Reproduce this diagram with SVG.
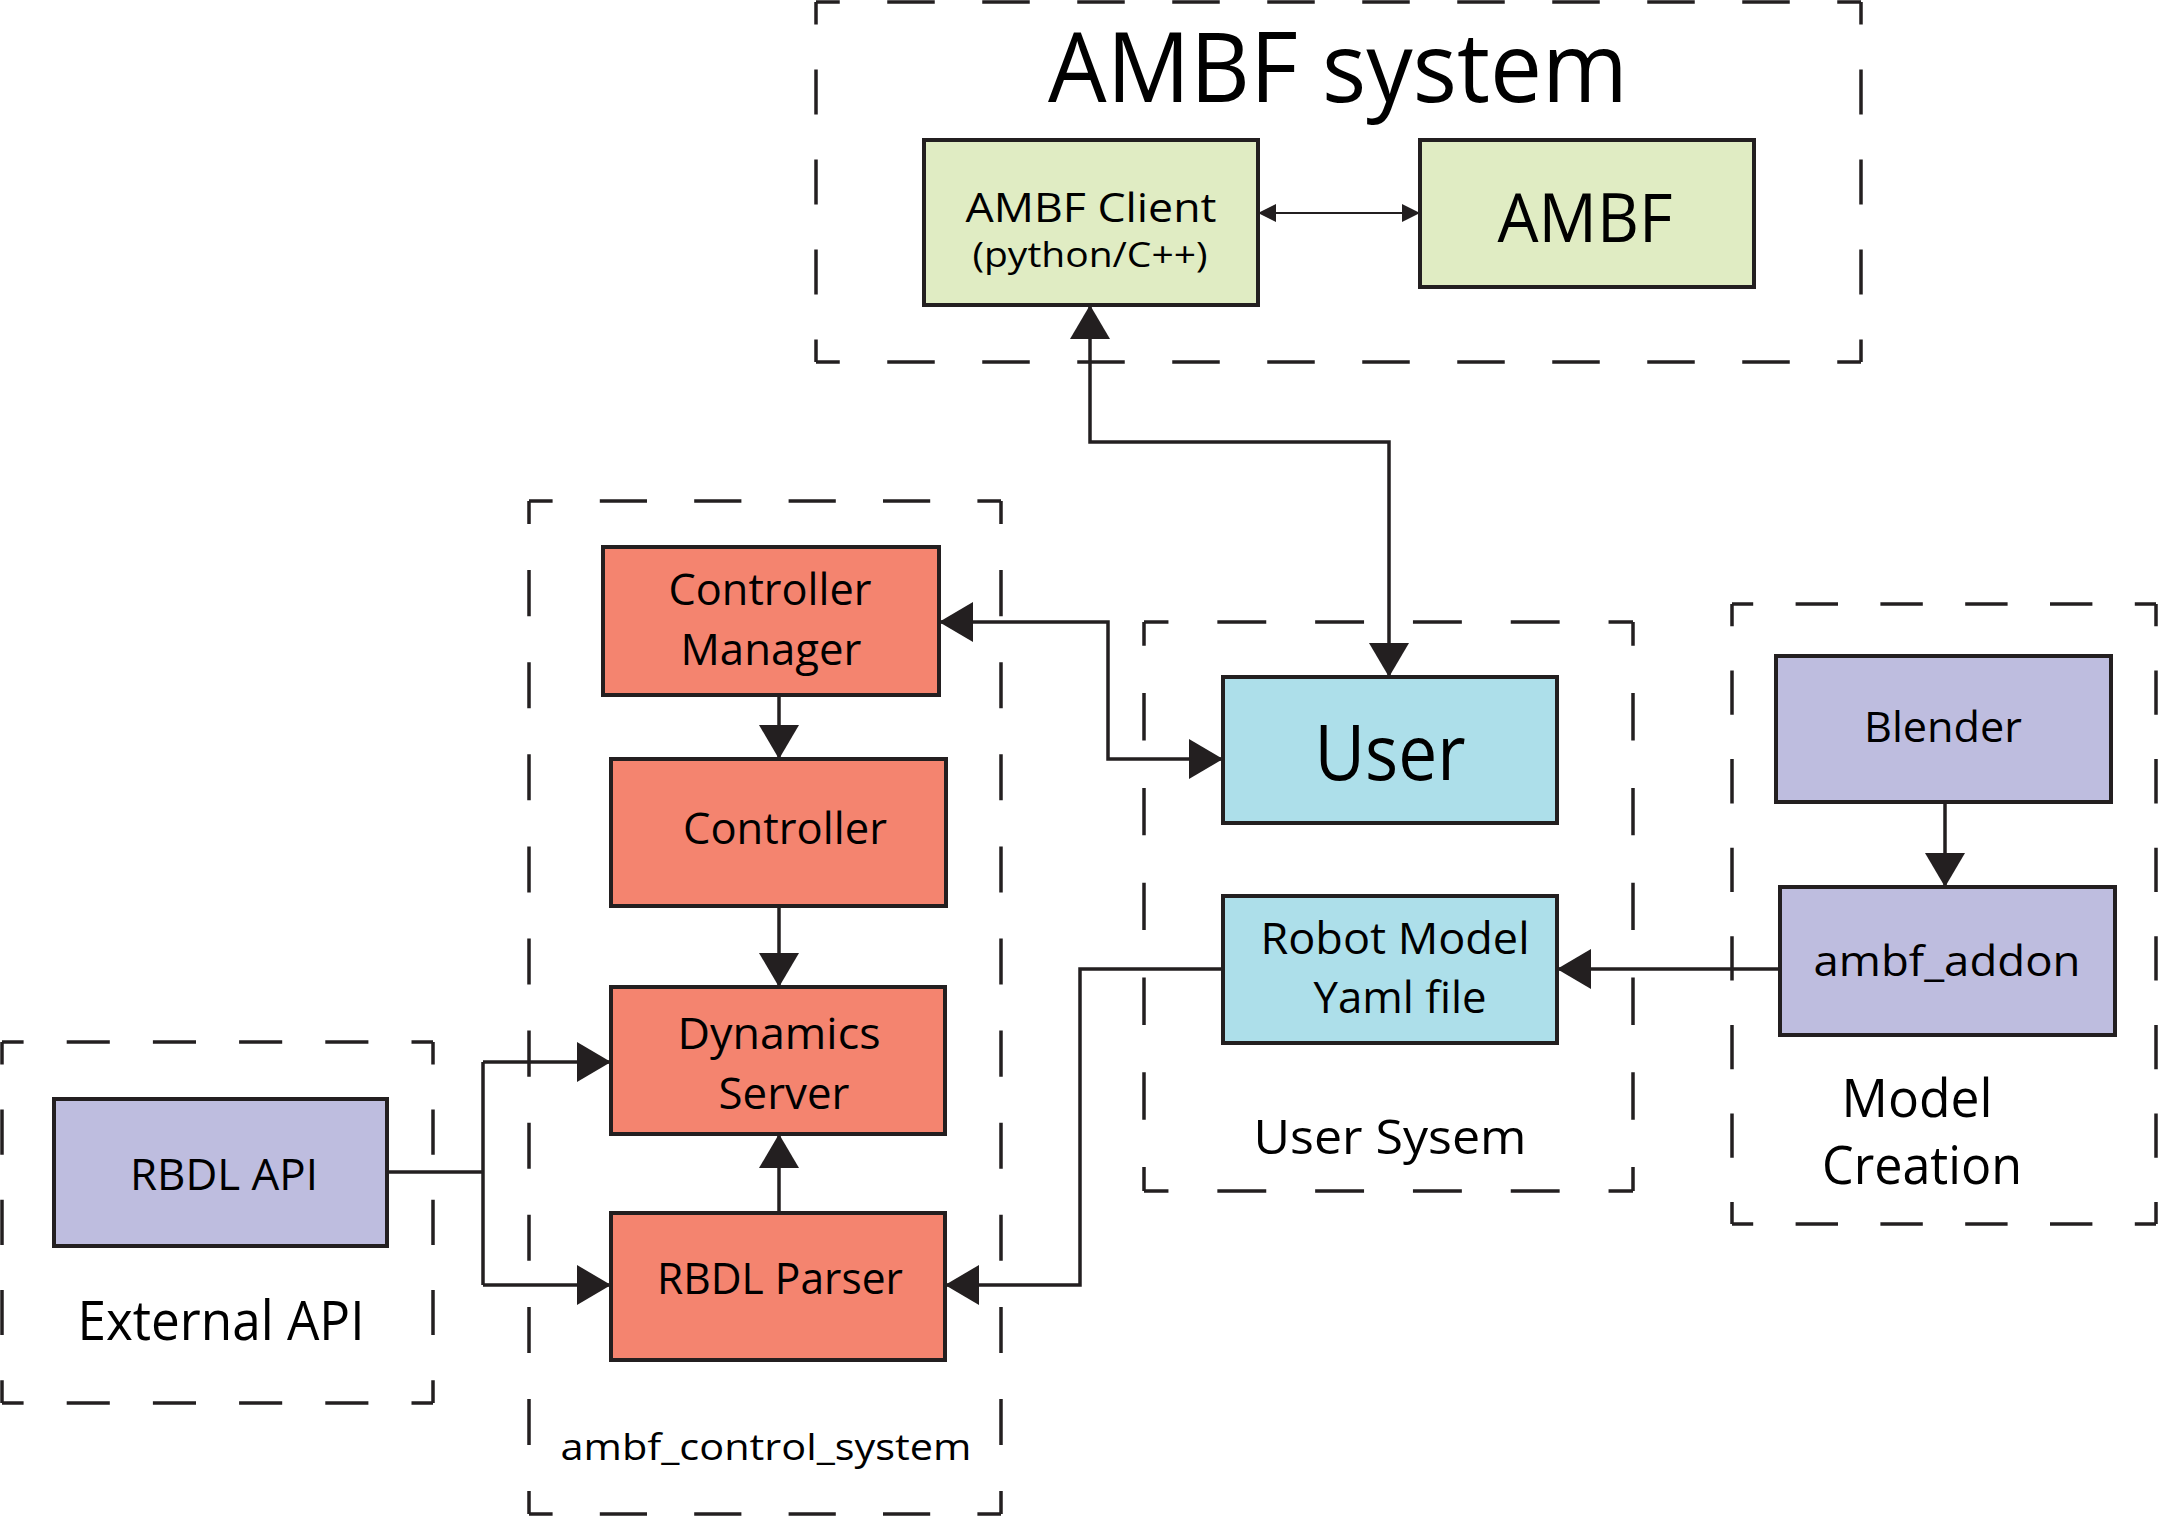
<svg xmlns="http://www.w3.org/2000/svg" width="2159" height="1517" viewBox="0 0 2159 1517">
<style>
  .box { stroke: #231F20; stroke-width: 4; }
  .green { fill: #E0ECC3; }
  .red { fill: #F4846F; }
  .blue { fill: #ADDFEA; }
  .purple { fill: #BEBDDF; }
  text { font-family: "Open Sans", "Noto Sans", "Liberation Sans", sans-serif; fill: #000000; text-anchor: middle; }
  .dash { fill: none; stroke: #231F20; stroke-width: 3.5; stroke-linecap: butt; }
  .conn { fill: none; stroke: #231F20; stroke-width: 3.5; }
  .thin { fill: none; stroke: #231F20; stroke-width: 2.2; }
</style>
<defs>
  <marker id="ah" markerUnits="userSpaceOnUse" markerWidth="34" markerHeight="40" refX="34" refY="20" orient="auto-start-reverse" viewBox="0 0 34 40">
    <path d="M0,0 L34,20 L0,40 Z" fill="#231F20"/>
  </marker>
  <marker id="sh" markerUnits="userSpaceOnUse" markerWidth="18" markerHeight="18" refX="18" refY="9" orient="auto-start-reverse" viewBox="0 0 18 18">
    <path d="M0,0 L18,9 L0,18 Z" fill="#231F20"/>
  </marker>
</defs>
<rect width="2159" height="1517" fill="#FFFFFF"/>

<g id="groups">
  <g id="grp-ambf-system">
    <path class="dash" d="M816,2 H1861 M816,362 H1861" stroke-dasharray="47.5 47.5" stroke-dashoffset="23.75"/>
    <path class="dash" d="M816,2 V362 M1861,2 V362" stroke-dasharray="45 45" stroke-dashoffset="22.5"/>
    <text x="1338" y="102" font-size="97" textLength="580" lengthAdjust="spacingAndGlyphs">AMBF system</text>
  </g>
  <g id="grp-control-system">
    <path class="dash" d="M529,501 H1001 M529,1514 H1001" stroke-dasharray="47.2 47.2" stroke-dashoffset="23.6"/>
    <path class="dash" d="M529,501 V1514 M1001,501 V1514" stroke-dasharray="46.05 46.05" stroke-dashoffset="23"/>
    <text x="766" y="1460" font-size="37" textLength="411" lengthAdjust="spacingAndGlyphs">ambf_control_system</text>
  </g>
  <g id="grp-external-api">
    <path class="dash" d="M2,1042 H433 M2,1403 H433" stroke-dasharray="43.1 43.1" stroke-dashoffset="21.5"/>
    <path class="dash" d="M2,1042 V1403 M433,1042 V1403" stroke-dasharray="45.1 45.1" stroke-dashoffset="22.6"/>
    <text x="221" y="1340" font-size="54" textLength="287" lengthAdjust="spacingAndGlyphs">External API</text>
  </g>
  <g id="grp-user-system">
    <path class="dash" d="M1144,622 H1633 M1144,1191 H1633" stroke-dasharray="48.9 48.9" stroke-dashoffset="24.45"/>
    <path class="dash" d="M1144,622 V1191 M1633,622 V1191" stroke-dasharray="47.4 47.4" stroke-dashoffset="23.7"/>
    <text x="1390" y="1154" font-size="48" textLength="273" lengthAdjust="spacingAndGlyphs">User Sysem</text>
  </g>
  <g id="grp-model-creation">
    <path class="dash" d="M1732,604 H2156 M1732,1224 H2156" stroke-dasharray="42.4 42.4" stroke-dashoffset="21.2"/>
    <path class="dash" d="M1732,604 V1224 M2156,604 V1224" stroke-dasharray="44.3 44.3" stroke-dashoffset="22.1"/>
    <text x="1917" y="1117" font-size="53" textLength="151" lengthAdjust="spacingAndGlyphs">Model</text>
    <text x="1922" y="1184" font-size="53" textLength="200" lengthAdjust="spacingAndGlyphs">Creation</text>
  </g>
</g>

<g id="connectors">
  <path id="c-client-ambf" class="thin" d="M1258,213 H1420" marker-start="url(#sh)" marker-end="url(#sh)"/>
  <path id="c-user-client" class="conn" d="M1090,305 V442 H1389 V677" marker-start="url(#ah)" marker-end="url(#ah)"/>
  <path id="c-cm-user" class="conn" d="M939,622 H1108 V759 H1223" marker-start="url(#ah)" marker-end="url(#ah)"/>
  <path id="c-cm-controller" class="conn" d="M779,695 V759" marker-end="url(#ah)"/>
  <path id="c-controller-dynamics" class="conn" d="M779,906 V987" marker-end="url(#ah)"/>
  <path id="c-parser-dynamics" class="conn" d="M779,1213 V1134" marker-end="url(#ah)"/>
  <path id="c-api-trunk" class="conn" d="M387,1172 H483 M483,1062 V1285"/>
  <path id="c-api-dynamics" class="conn" d="M483,1062 H611" marker-end="url(#ah)"/>
  <path id="c-api-parser" class="conn" d="M483,1285 H611" marker-end="url(#ah)"/>
  <path id="c-robot-parser" class="conn" d="M1223,969 H1080 V1285 H945" marker-end="url(#ah)"/>
  <path id="c-addon-robot" class="conn" d="M1780,969 H1557" marker-end="url(#ah)"/>
  <path id="c-blender-addon" class="conn" d="M1945,802 V887" marker-end="url(#ah)"/>
</g>

<g id="node-ambf-client">
  <rect class="box green" x="924" y="140" width="334" height="165"/>
  <text x="1091" y="222" font-size="40" textLength="251" lengthAdjust="spacingAndGlyphs">AMBF Client</text>
  <text x="1090" y="267" font-size="35" textLength="235" lengthAdjust="spacingAndGlyphs">(python/C++)</text>
</g>
<g id="node-ambf">
  <rect class="box green" x="1420" y="140" width="334" height="147"/>
  <text x="1585" y="242" font-size="68" textLength="175" lengthAdjust="spacingAndGlyphs">AMBF</text>
</g>
<g id="node-controller-manager">
  <rect class="box red" x="603" y="547" width="336" height="148"/>
  <text x="770" y="605" font-size="44" textLength="203" lengthAdjust="spacingAndGlyphs">Controller</text>
  <text x="771" y="665" font-size="44" textLength="181" lengthAdjust="spacingAndGlyphs">Manager</text>
</g>
<g id="node-controller">
  <rect class="box red" x="611" y="759" width="335" height="147"/>
  <text x="785" y="844" font-size="44" textLength="204" lengthAdjust="spacingAndGlyphs">Controller</text>
</g>
<g id="node-dynamics-server">
  <rect class="box red" x="611" y="987" width="334" height="147"/>
  <text x="779" y="1049" font-size="44" textLength="203" lengthAdjust="spacingAndGlyphs">Dynamics</text>
  <text x="784" y="1109" font-size="44" textLength="131" lengthAdjust="spacingAndGlyphs">Server</text>
</g>
<g id="node-rbdl-parser">
  <rect class="box red" x="611" y="1213" width="334" height="147"/>
  <text x="780" y="1294" font-size="44" textLength="246" lengthAdjust="spacingAndGlyphs">RBDL Parser</text>
</g>
<g id="node-rbdl-api">
  <rect class="box purple" x="54" y="1099" width="333" height="147"/>
  <text x="224" y="1190" font-size="43" textLength="188" lengthAdjust="spacingAndGlyphs">RBDL API</text>
</g>
<g id="node-user">
  <rect class="box blue" x="1223" y="677" width="334" height="146"/>
  <text x="1390" y="780" font-size="77" textLength="151" lengthAdjust="spacingAndGlyphs">User</text>
</g>
<g id="node-robot-model">
  <rect class="box blue" x="1223" y="896" width="334" height="147"/>
  <text x="1395" y="954" font-size="44" textLength="269" lengthAdjust="spacingAndGlyphs">Robot Model</text>
  <text x="1400" y="1013" font-size="44" textLength="173" lengthAdjust="spacingAndGlyphs">Yaml file</text>
</g>
<g id="node-blender">
  <rect class="box purple" x="1776" y="656" width="335" height="146"/>
  <text x="1943" y="742" font-size="42" textLength="158" lengthAdjust="spacingAndGlyphs">Blender</text>
</g>
<g id="node-ambf-addon">
  <rect class="box purple" x="1780" y="887" width="335" height="148"/>
  <text x="1947" y="976" font-size="42" textLength="267" lengthAdjust="spacingAndGlyphs">ambf_addon</text>
</g>
</svg>
